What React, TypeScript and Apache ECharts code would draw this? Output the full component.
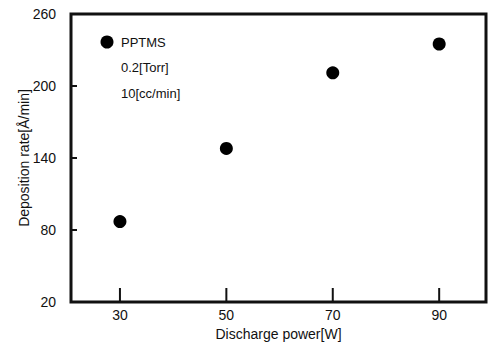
import React, { useEffect, useRef } from "react";
import * as echarts from "echarts";

const powerW = [30, 50, 70, 90];
const depositionRate = [87, 148, 211, 235];
const xTicks = [30, 50, 70, 90];
const yTicks = [20, 80, 140, 200, 260];
const legendLines = ["PPTMS", "0.2[Torr]", "10[cc/min]"];

export default function App() {
  const ref = useRef<HTMLDivElement>(null);
  useEffect(() => {
    document.body.style.margin = "0";
    const chart = echarts.init(ref.current!, null, { renderer: "svg" });
    const font = "Liberation Sans";
    const ink = "#111111";
    const xMin = 20.8;
    const xMax = 98.8;
    const yMin = 20;
    const yMax = 260;
    chart.setOption({
      animation: false,
      grid: {
        left: 71,
        top: 14,
        right: 3,
        bottom: 43,
        show: true,
        borderColor: ink,
        borderWidth: 3,
      },
      xAxis: {
        type: "value",
        min: xMin,
        max: xMax,
        name: "Discharge power[W]",
        nameLocation: "middle",
        nameGap: 25,
        nameTextStyle: { color: ink, fontFamily: font, fontSize: 14 },
        axisLine: { show: false },
        axisTick: { show: false },
        axisLabel: { show: false },
        splitLine: { show: false },
      },
      yAxis: {
        type: "value",
        min: yMin,
        max: yMax,
        name: "Deposition rate[Å/min]",
        nameLocation: "middle",
        nameGap: 40,
        nameRotate: 90,
        nameTextStyle: { color: ink, fontFamily: font, fontSize: 14 },
        axisLine: { show: false },
        axisTick: { show: false },
        axisLabel: { show: false },
        splitLine: { show: false },
      },
      graphic: [
        {
          type: "circle",
          shape: { cx: 107, cy: 42, r: 6.5 },
          style: { fill: "#000" },
        },
        ...legendLines.map((t, i) => ({
          type: "text",
          x: 121,
          y: 42 + i * 25.5,
          style: {
            text: t,
            fill: ink,
            fontFamily: font,
            fontSize: 13,
            verticalAlign: "middle",
            align: "left",
          },
        })),
      ],
      series: [
        {
          type: "custom",
          data: xTicks.map((x) => [x, yMin]),
          silent: true,
          clip: false,
          renderItem: (params: any, api: any) => {
            const v = api.value(0);
            const p = api.coord([v, api.value(1)]);
            return {
              type: "group",
              children: [
                { type: "rect", shape: { x: p[0] - 1, y: p[1] - 14, width: 2, height: 14 }, style: { fill: ink } },
                {
                  type: "text",
                  x: p[0],
                  y: p[1] + 6,
                  style: {
                    text: String(v),
                    fill: ink,
                    fontFamily: font,
                    fontSize: 14,
                    align: "center",
                    verticalAlign: "top",
                  },
                },
              ],
            };
          },
        },
        {
          type: "custom",
          data: yTicks.map((y) => [xMin, y]),
          silent: true,
          clip: false,
          renderItem: (params: any, api: any) => {
            const v = api.value(1);
            const p = api.coord([api.value(0), v]);
            return {
              type: "group",
              children: [
                { type: "rect", shape: { x: p[0], y: p[1] - 1, width: 6, height: 2 }, style: { fill: ink } },
                {
                  type: "text",
                  x: p[0] - 15,
                  y: p[1],
                  style: {
                    text: String(v),
                    fill: ink,
                    fontFamily: font,
                    fontSize: 14,
                    align: "right",
                    verticalAlign: "middle",
                  },
                },
              ],
            };
          },
        },
        {
          type: "scatter",
          data: powerW.map((x, i) => [x, depositionRate[i]]),
          symbol: "circle",
          symbolSize: 13,
          itemStyle: { color: "#000", opacity: 1 },
        },
      ],
    });
    return () => chart.dispose();
  }, []);
  return <div ref={ref} style={{ width: 489, height: 346 }} />;
}
